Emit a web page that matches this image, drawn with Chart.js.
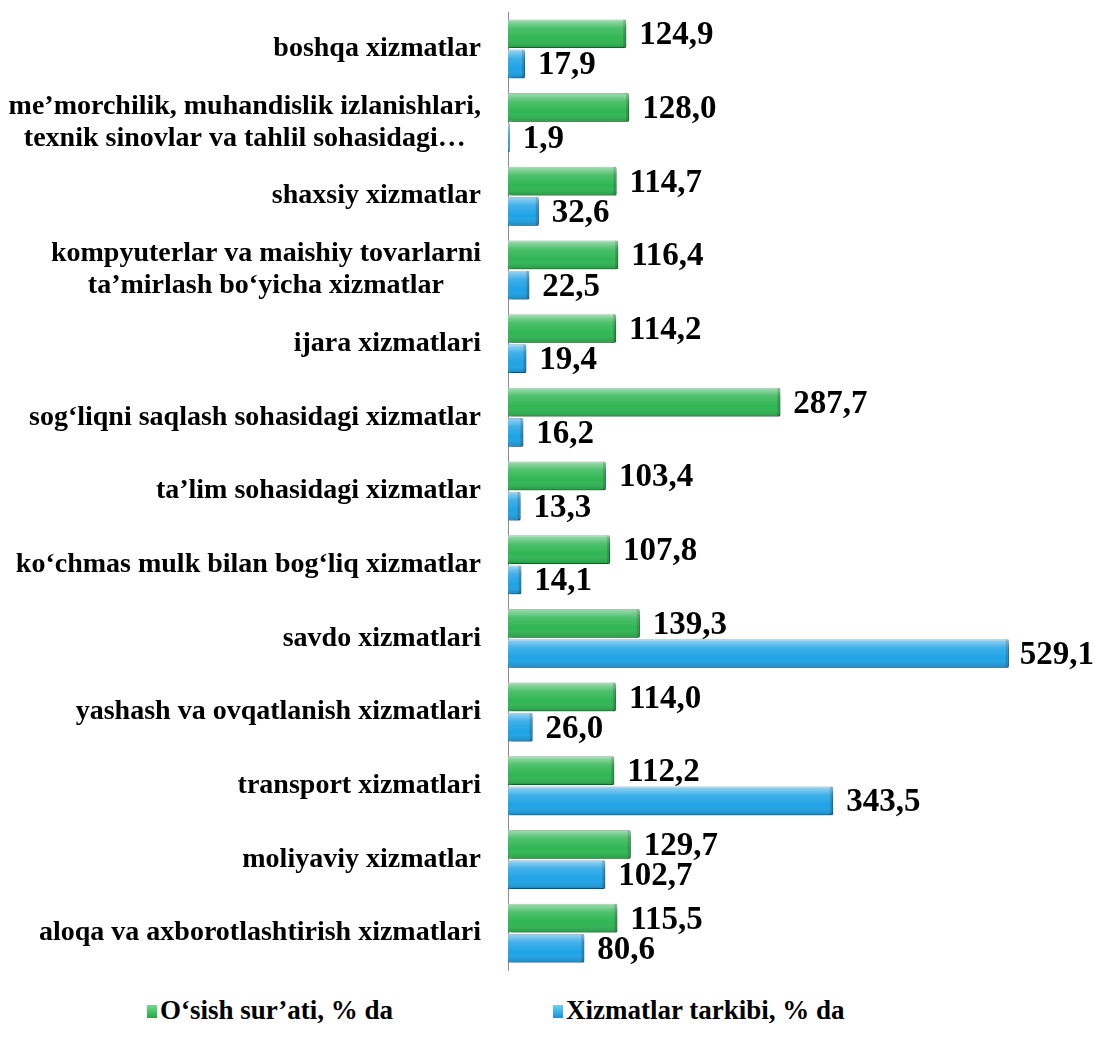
<!DOCTYPE html>
<html>
<head>
<meta charset="utf-8">
<script src="https://cdn.jsdelivr.net/npm/chart.js@4.4.0/dist/chart.umd.min.js"></script>
<style>
  body { margin: 0; background: #fff; font-family: "Liberation Serif", "Times New Roman", serif; }
  .wrap { position: relative; width: 1098px; height: 1043px; }
  #chart { position: absolute; left: 0; top: 0; }
  .legend { position: absolute; top: 995px; left: 0; width: 1098px; height: 40px; font: bold 27px "Liberation Serif", "Times New Roman", serif; color: #000; }
  .legend span { position: absolute; top: 0; white-space: nowrap; }
  .legend i { display: inline-block; width: 10px; height: 13px; margin-right: 3px; vertical-align: 1px; }
</style>
</head>
<body>
<div class="wrap">
  <canvas id="chart" width="1098" height="988"></canvas>
  <div class="legend">
    <span style="left:147px"><i style="background:linear-gradient(#6fdc8a,#22a846)"></i>O‘sish sur’ati, % da</span>
    <span style="left:553px"><i style="background:linear-gradient(#6ad0f7,#1692d6)"></i>Xizmatlar tarkibi, % da</span>
  </div>
</div>
<script>
// categories, top to bottom
const categories = [
  "boshqa xizmatlar",
  ["me’morchilik, muhandislik izlanishlari,", "texnik sinovlar va tahlil sohasidagi…"],
  "shaxsiy xizmatlar",
  ["kompyuterlar va maishiy tovarlarni", "ta’mirlash bo‘yicha xizmatlar"],
  "ijara xizmatlari",
  "sog‘liqni saqlash sohasidagi xizmatlar",
  "ta’lim sohasidagi xizmatlar",
  "ko‘chmas mulk bilan bog‘liq xizmatlar",
  "savdo xizmatlari",
  "yashash va ovqatlanish xizmatlari",
  "transport xizmatlari",
  "moliyaviy xizmatlar",
  "aloqa va axborotlashtirish xizmatlari",
];
const growthRate = [124.9, 128.0, 114.7, 116.4, 114.2, 287.7, 103.4, 107.8, 139.3, 114.0, 112.2, 129.7, 115.5];
const structure  = [17.9, 1.9, 32.6, 22.5, 19.4, 16.2, 13.3, 14.1, 529.1, 26.0, 343.5, 102.7, 80.6];
const seriesNames = ["O‘sish sur’ati, % da", "Xizmatlar tarkibi, % da"];

const FONT = "'Liberation Serif', 'Times New Roman', serif";
const fmt = v => v.toFixed(1).replace(".", ",");

// drop shadow under bars
const shadowPlugin = {
  id: "shadow",
  beforeDatasetDraw(chart) {
    const ctx = chart.ctx;
    ctx.save();
    ctx.shadowColor = "rgba(0,0,0,0.28)";
    ctx.shadowBlur = 3;
    ctx.shadowOffsetX = 3;
    ctx.shadowOffsetY = 4;
  },
  afterDatasetDraw(chart) {
    chart.ctx.restore();
  },
};

// glossy highlight + value labels
const barDecor = {
  id: "barDecor",
  afterDatasetsDraw(chart) {
    const ctx = chart.ctx;
    chart.data.datasets.forEach((ds, di) => {
      chart.getDatasetMeta(di).data.forEach((el, i) => {
        const { x, y, base, height } = el.getProps(["x", "y", "base", "height"], true);
        const top = y - height / 2;
        const w = x - base;
        if (w > 1) {
          const g = ctx.createLinearGradient(0, top, 0, top + height);
          g.addColorStop(0, "rgba(255,255,255,0.55)");
          g.addColorStop(0.3, "rgba(255,255,255,0.15)");
          g.addColorStop(0.65, "rgba(255,255,255,0)");
          g.addColorStop(1, "rgba(0,0,0,0.18)");
          ctx.fillStyle = g;
          ctx.fillRect(base, top, w, height);
          ctx.fillStyle = "rgba(0,0,0,0.15)";
          ctx.fillRect(x - Math.min(3, w / 3), top, Math.min(3, w / 3), height);
        }
        ctx.save();
        ctx.font = "bold 33px " + FONT;
        ctx.fillStyle = "#000";
        ctx.textBaseline = "middle";
        ctx.textAlign = "left";
        const txt = fmt(ds.data[i]);
        const tw = ctx.measureText(txt).width;
        const tx = Math.min(x + 13, chart.width - tw - 4);
        ctx.fillText(txt, tx, y + 2);
        ctx.restore();
      });
    });
  },
};

// category labels, right aligned block, lines centred inside block
const catLabels = {
  id: "catLabels",
  afterDraw(chart) {
    const ctx = chart.ctx;
    const yScale = chart.scales.y;
    const right = chart.chartArea.left - 27;
    const lh = 32;
    ctx.save();
    ctx.font = "bold 28px " + FONT;
    ctx.fillStyle = "#000";
    ctx.textBaseline = "middle";
    ctx.textAlign = "center";
    categories.forEach((lab, i) => {
      const lines = Array.isArray(lab) ? lab : [lab];
      const maxW = Math.max(...lines.map(l => ctx.measureText(l).width));
      const cx = right - maxW / 2;
      const cy = yScale.getPixelForTick(i);
      lines.forEach((l, j) => {
        ctx.fillText(l, cx, cy + (j - (lines.length - 1) / 2) * lh);
      });
    });
    ctx.restore();
  },
};

new Chart(document.getElementById("chart"), {
  type: "bar",
  data: {
    labels: categories,
    datasets: [
      {
        label: seriesNames[0],
        data: growthRate,
        backgroundColor: "#2fb653",
        borderColor: "#1e9a40",
        borderWidth: 1,
        borderRadius: 2,
        borderSkipped: "start",
        barPercentage: 0.95,
        categoryPercentage: 0.82,
      },
      {
        label: seriesNames[1],
        data: structure,
        backgroundColor: "#1ea3e6",
        borderColor: "#1383c4",
        borderWidth: 1,
        borderRadius: 2,
        borderSkipped: "start",
        barPercentage: 0.95,
        categoryPercentage: 0.82,
      },
    ],
  },
  options: {
    indexAxis: "y",
    responsive: false,
    animation: false,
    layout: { padding: { left: 0, right: 22, top: 12, bottom: 18 } },
    scales: {
      x: { display: false, min: 0, max: 600 },
      y: {
        ticks: { display: false },
        grid: { display: false },
        border: { display: true, color: "#8c8c8c", width: 1 },
        afterFit: s => { s.width = 508; },
      },
    },
    plugins: {
      legend: { display: false },
      tooltip: { enabled: false },
    },
  },
  plugins: [shadowPlugin, barDecor, catLabels],
});
</script>
</body>
</html>
